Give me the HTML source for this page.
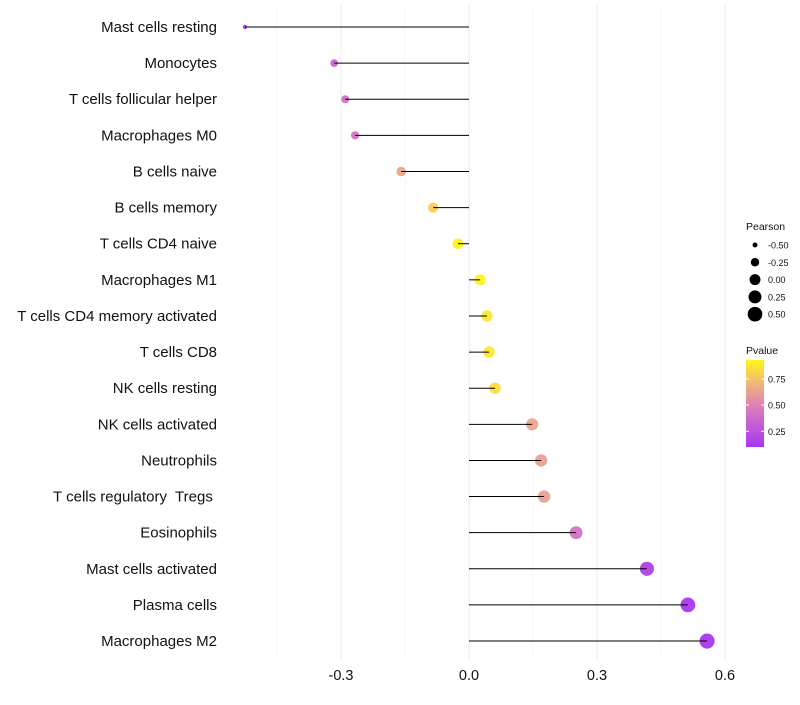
<!DOCTYPE html>
<html><head><meta charset="utf-8"><style>
body{margin:0;background:#fff;font-family:"Liberation Sans",sans-serif}
</style></head><body>
<svg id="c" width="800" height="700"></svg>
<script>
const cells=["Mast cells resting","Monocytes","T cells follicular helper","Macrophages M0","B cells naive","B cells memory","T cells CD4 naive","Macrophages M1","T cells CD4 memory activated","T cells CD8","NK cells resting","NK cells activated","Neutrophils","T cells regulatory  Tregs ","Eosinophils","Mast cells activated","Plasma cells","Macrophages M2"];
const pearson=[-0.525,-0.316,-0.29,-0.267,-0.159,-0.084,-0.026,0.026,0.042,0.047,0.061,0.148,0.169,0.176,0.251,0.417,0.513,0.558];
const pvalue=[0.1,0.35,0.4,0.42,0.64,0.8,0.93,0.92,0.88,0.88,0.85,0.64,0.62,0.62,0.42,0.15,0.08,0.05];
const xTicks=[-0.3,0,0.3,0.6];
const xTickLabels=["-0.3","0.0","0.3","0.6"];
const minorTicks=[-0.45,-0.15,0.15,0.45];
const legendVals=[-0.5,-0.25,0,0.25,0.5];
const legendP=[0.75,0.5,0.25];

const NS="http://www.w3.org/2000/svg",svg=document.getElementById('c');
function mk(t,a,p){const e=document.createElementNS(NS,t);for(const k in a)e.setAttribute(k,a[k]);(p||svg).appendChild(e);return e;}
const x=v=>469+v*426.67;
const y=i=>27+i*36.12;
const r=v=>Math.sqrt(Math.max(4,30+48*v));
const stops=[[0,[160,32,240]],[0.45,[215,110,180]],[0.72,[240,170,110]],[1,[255,245,0]]];
function col(p){const c=Math.max(0,Math.min(1,(p-0.1)/0.83));
 for(let k=1;k<stops.length;k++){if(c<=stops[k][0]){const s=stops[k-1],e=stops[k];const u=(c-s[0])/(e[0]-s[0]);
 return `rgb(${s[1].map((v,i)=>Math.round(v+(e[1][i]-v)*u)).join(',')})`;}}
 return 'rgb(255,245,0)';}
minorTicks.forEach(t=>{const l=mk('line',{x1:x(t),x2:x(t),y1:5,y2:660,stroke:'#f3f3f3','stroke-width':0.6});

});
xTicks.forEach((t,i)=>{const l=mk('line',{x1:x(t),x2:x(t),y1:5,y2:660,stroke:'#ebebeb','stroke-width':1});


const tx=mk('text',{x:x(t),y:680,'text-anchor':'middle','font-size':14.5,fill:'#111'});tx.textContent=xTickLabels[i];

});
cells.forEach((c,i)=>{
 const t=mk('text',{x:217,y:y(i)+5,'text-anchor':'end','font-size':15,fill:'#111',style:'white-space:pre'});t.textContent=c;
 
 
 const d=mk('circle',{cx:x(pearson[i]),cy:y(i),r:r(pearson[i]),fill:col(pvalue[i]),'fill-opacity':0.85});
 
 
 const ln=mk('line',{x1:x(0),x2:x(pearson[i]),y1:y(i),y2:y(i),stroke:'#000','stroke-width':1});
 
 
});
const lt=mk('text',{x:746,y:230,'font-size':10.5,fill:'#111'});lt.textContent='Pearson';


legendVals.forEach((v,i)=>{const cy=245+i*17.3;
 const d=mk('circle',{cx:755,cy:cy,r:r(v),fill:'#000'});
 
 
 const t=mk('text',{x:768,y:cy+3.5,'font-size':9,fill:'#111'});t.textContent=v.toFixed(2);
 
 });
const pt=mk('text',{x:746,y:354,'font-size':10.5,fill:'#111'});pt.textContent='Pvalue';


const defs=mk('defs',{});const g=mk('linearGradient',{id:'gr',x1:0,y1:1,x2:0,y2:0},defs);
[0,0.2,0.45,0.6,0.72,0.85,1].forEach(o=>mk('stop',{offset:o,'stop-color':col(0.1+0.83*o)},g));
const bar=mk('rect',{x:746,y:360,width:18,height:87,fill:'url(#gr)','fill-opacity':0.9});


legendP.forEach(p=>{const cy=447-(p-0.1)/0.83*87;
 mk('line',{x1:746,x2:749,y1:cy,y2:cy,stroke:'#fff'});mk('line',{x1:761,x2:764,y1:cy,y2:cy,stroke:'#fff'});
 const t=mk('text',{x:768,y:cy+3.5,'font-size':9,fill:'#111'});t.textContent=p.toFixed(2);
 
 });
</script></body></html>
